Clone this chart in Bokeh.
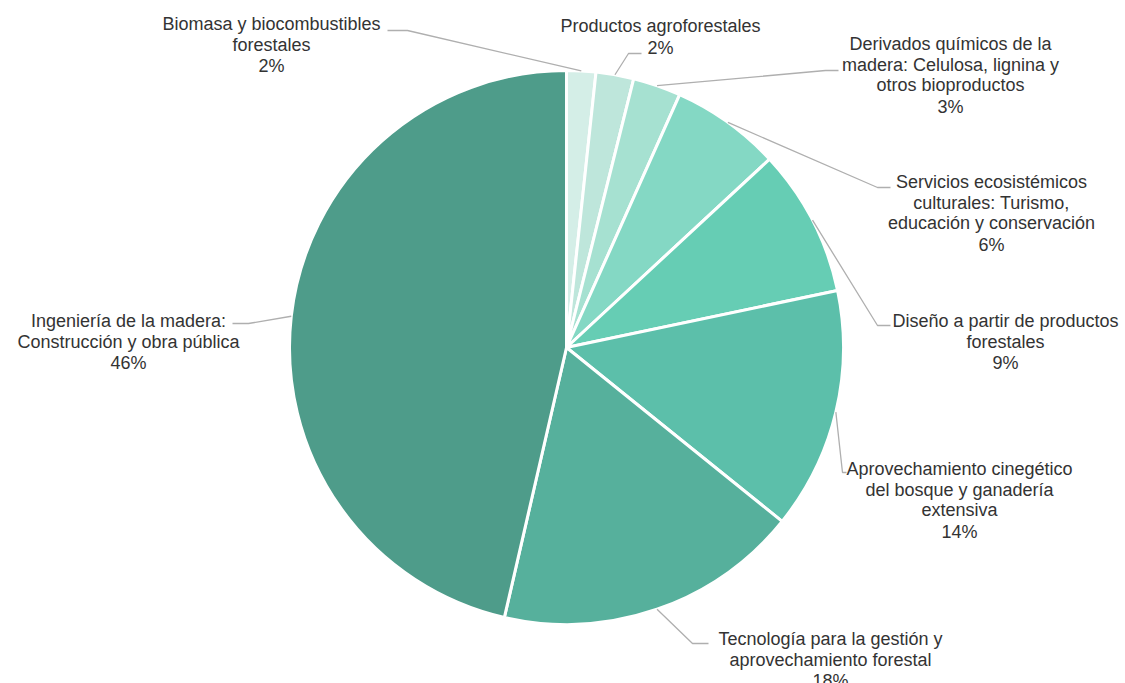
import math
from bokeh.plotting import figure
from bokeh.models import Range1d, ColumnDataSource
from bokeh.embed import file_html
from bokeh.resources import INLINE
from bokeh.core.properties import value

# ---------------- data ----------------
categories = [
    "Biomasa y biocombustibles\nforestales",
    "Productos agroforestales",
    "Derivados químicos de la\nmadera: Celulosa, lignina y\notros bioproductos",
    "Servicios ecosistémicos\nculturales: Turismo,\neducación y conservación",
    "Diseño a partir de productos\nforestales",
    "Aprovechamiento cinegético\ndel bosque y ganadería\nextensiva",
    "Tecnología para la gestión y\naprovechamiento forestal",
    "Ingeniería de la madera:\nConstrucción y obra pública",
]
shares = [1.7, 2.2, 2.8, 6.4, 8.6, 14.1, 17.8, 46.4]
colors = ["#D4EEE7", "#BEE6DB", "#A6E1D1", "#84D8C4",
          "#66CDB4", "#5CBFAA", "#56B09C", "#4E9C8A"]

# ---------------- layout (page pixel coords) ----------------
W, H = 1125, 683
CX, CY, R = 566, 347, 277
TEXT_SHIFT = -6.5
# label center x, first baseline y, elbow point, end point
label_layout = [
    (271, 30, (407, 30), (387, 30)),
    (660, 32, (628, 53), (641, 53)),
    (950, 50, (825, 70), (838, 70)),
    (991, 188, (877, 187), (890, 187)),
    (1005, 327, (877, 325), (890, 325)),
    (959, 475, (842, 472), (846, 472)),
    (830, 645, (692, 643), (708, 643)),
    (128, 327, (248, 323), (232, 323)),
]
LINE_H = 20.5
PCT_H = 21.5

p = figure(width=W, height=H, output_backend="svg", toolbar_location=None,
           x_range=Range1d(0, W), y_range=Range1d(-H, 0),
           x_axis_location=None, y_axis_location=None, min_border=0,
           background_fill_color="white", border_fill_color="white")
p.grid.visible = False
p.outline_line_color = None

total = sum(shares)
starts, ends, mids = [], [], []
acc = 0.0
for s in shares:
    t0 = acc / total * 2 * math.pi
    acc += s
    t1 = acc / total * 2 * math.pi
    starts.append(math.pi / 2 - t1)
    ends.append(math.pi / 2 - t0)
    mids.append((t0 + t1) / 2)

src = ColumnDataSource(dict(start=starts, end=ends, color=colors))
p.wedge(x=CX, y=-CY, radius=R, start_angle="start", end_angle="end",
        direction="anticlock", fill_color="color", line_color="white",
        line_width=3, source=src)

# leader lines
xs, ys = [], []
for m, (lx, ly, el, en) in zip(mids, label_layout):
    ex = CX + R * math.sin(m)
    ey = CY - R * math.cos(m)
    xs.append([ex, el[0], en[0]])
    ys.append([-ey, -el[1], -en[1]])
p.multi_line(xs=xs, ys=ys, line_color="#AFAFAF", line_width=1.3)

# labels
tx, ty, tt = [], [], []
for cat, s, (lx, ly, el, en) in zip(categories, shares, label_layout):
    lines = cat.split("\n")
    y = ly + TEXT_SHIFT
    for i, ln in enumerate(lines):
        tx.append(lx); ty.append(-y); tt.append(ln)
        y += LINE_H
    y = ly + TEXT_SHIFT + LINE_H * (len(lines) - 1) + PCT_H
    tx.append(lx); ty.append(-y); tt.append(f"{round(s)}%")

p.text(x=tx, y=ty, text=tt, text_align="center", text_baseline="alphabetic",
       text_font=value("Liberation Sans"), text_font_size="18px",
       text_color="#333333")

open("out.html", "w").write(file_html(p, INLINE))
